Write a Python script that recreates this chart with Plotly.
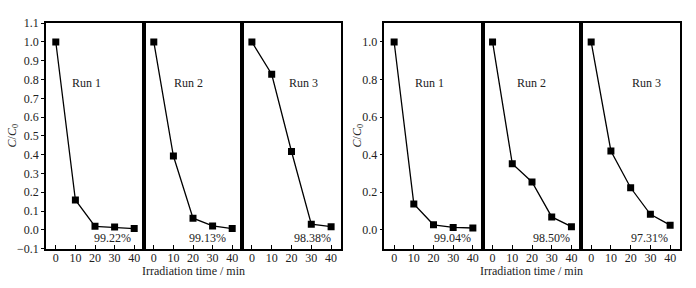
import plotly.graph_objects as go

time_min = [0, 10, 20, 30, 40]

left_run1 = [1.0, 0.159, 0.019, 0.015, 0.007]
left_run2 = [1.0, 0.393, 0.062, 0.021, 0.007]
left_run3 = [1.0, 0.828, 0.417, 0.030, 0.017]
left_pct = ["99.22%", "99.13%", "98.38%"]

right_run1 = [1.0, 0.138, 0.027, 0.013, 0.010]
right_run2 = [1.0, 0.352, 0.255, 0.069, 0.017]
right_run3 = [1.0, 0.420, 0.224, 0.083, 0.025]
right_pct = ["99.04%", "98.50%", "97.31%"]

run_labels = ["Run 1", "Run 2", "Run 3"]
left_ticks = [-0.1, 0.0, 0.1, 0.2, 0.3, 0.4, 0.5, 0.6, 0.7, 0.8, 0.9, 1.0, 1.1]
right_ticks = [0.0, 0.2, 0.4, 0.6, 0.8, 1.0]
x_ticks = [0, 10, 20, 30, 40]

W, H = 696, 288
FONT = "Liberation Serif"

fig = go.Figure()

panels = [
    (46, 144), (144, 242), (242, 341),
    (384.3, 482.7), (482.7, 581.3), (581.3, 680),
]
ytop, ybot = 17, 254
ydom = [1 - ybot / H, 1 - ytop / H]

series = [left_run1, left_run2, left_run3, right_run1, right_run2, right_run3]
pcts = left_pct + right_pct
run_x = [15.9, 17.9, 26.0, 17.9, 19.6, 27.9]
pct_x = [28.7, 27.6, 30.7, 29.8, 29.7, 29.6]

layout = dict(
    width=W, height=H, margin=dict(l=0, r=0, t=0, b=0),
    paper_bgcolor="white", plot_bgcolor="white",
    showlegend=False,
    font=dict(family=FONT, size=12, color="#222"),
)

for i, (x0, x1) in enumerate(panels):
    n = i + 1
    xa = "xaxis" if n == 1 else f"xaxis{n}"
    ya = "yaxis" if n == 1 else f"yaxis{n}"
    xr = "x" if n == 1 else f"x{n}"
    yr = "y" if n == 1 else f"y{n}"
    fig.add_trace(go.Scatter(
        x=time_min, y=series[i], mode="lines+markers",
        line=dict(color="black", width=1.3),
        marker=dict(symbol="square", size=7, color="black"),
        xaxis=xr, yaxis=yr,
    ))
    layout[xa] = dict(
        domain=[x0 / W, x1 / W], range=[-5, 45], anchor=yr,
        tickvals=x_ticks, ticks="inside", ticklen=4, tickcolor="black",
        ticklabelstandoff=-3,
        showline=True, mirror=True, linecolor="black", linewidth=1.5,
        showgrid=False, zeroline=False,
        tickfont=dict(family=FONT, size=12, color="#222"),
    )
    is_left_chart = i < 3
    first = i in (0, 3)
    ya_dict = dict(
        domain=ydom, range=[-0.1, 1.1], anchor=xr,
        showline=True, mirror=True, linecolor="black", linewidth=1.5,
        showgrid=False, zeroline=False,
    )
    if first:
        ya_dict.update(
            tickvals=left_ticks if is_left_chart else right_ticks,
            tickformat=".1f", ticks="outside", ticklen=3, tickcolor="black",
            tickfont=dict(family=FONT, size=12, color="#222"),
        )
    else:
        ya_dict.update(showticklabels=False, ticks="")
    layout[ya] = ya_dict
    fig.add_annotation(x=run_x[i], y=0.78, xref=xr, yref=yr, text=run_labels[i % 3],
                       xanchor="center", yanchor="middle",
                       showarrow=False, font=dict(family=FONT, size=12, color="#222"))
    fig.add_annotation(x=pct_x[i], y=-0.045, xref=xr, yref=yr, text=pcts[i],
                       xanchor="center", yanchor="middle",
                       showarrow=False, font=dict(family=FONT, size=12, color="#222"))

fig.update_layout(**layout)

for cx in (13, 358):
    fig.add_annotation(x=cx / W, y=1 - 135 / H, xref="paper", yref="paper",
                       text="<i>C</i>/<i>C</i><sub>0</sub>", textangle=-90,
                       xanchor="center", yanchor="middle",
                       showarrow=False, font=dict(family=FONT, size=12, color="#222"))
for cx in (193, 531):
    fig.add_annotation(x=cx / W, y=1 - 277 / H, xref="paper", yref="paper",
                       text="Irradiation time / min",
                       xanchor="center", yanchor="middle",
                       showarrow=False, font=dict(family=FONT, size=12, color="#222"))

post = (
    "document.documentElement.style.cssText='margin:0;padding:0;height:288px;overflow:hidden';"
    "document.body.style.cssText='margin:0;padding:0;height:288px;overflow:hidden';"
)
fig.write_html("out.html", config={"displayModeBar": False}, post_script=post)
